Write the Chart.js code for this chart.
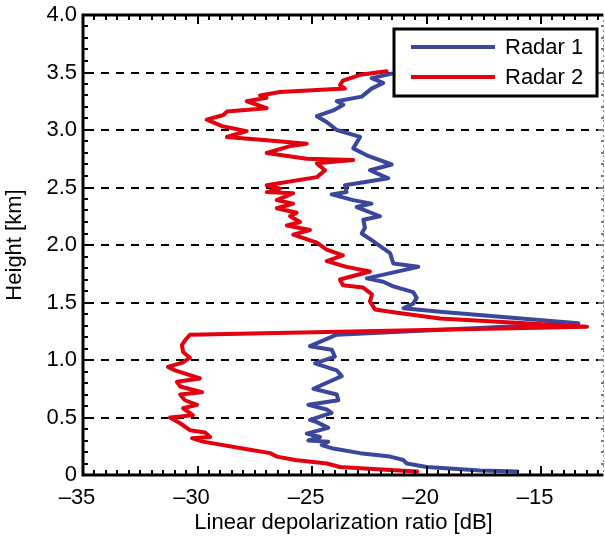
<!DOCTYPE html>
<html><head><meta charset="utf-8">
<script src="https://cdn.jsdelivr.net/npm/chart.js@4/dist/chart.umd.min.js"></script>
<style>html,body{margin:0;padding:0;background:#fff;}canvas{display:block;}</style>
</head><body>
<canvas id="c" width="605" height="540"></canvas>
<script>
// ---------- data ----------
const seriesNames = ['Radar 1', 'Radar 2'];
const seriesColors = ['#3a479b', '#e3000f'];

const radar1Ldr = [-16.05,-17.66,-19.99,-20.86,-21.01,-21.59,-22.90,-24.07,-24.58,-24.29,-25.16,-24.65,-25.23,-24.29,-24.79,-25.09,-24.14,-24.36,-25.16,-23.85,-23.92,-24.94,-23.70,-23.92,-24.87,-24.00,-24.14,-25.09,-23.92,-13.37,-19.41,-21.01,-20.58,-20.43,-20.58,-21.45,-21.89,-22.61,-20.36,-21.45,-21.59,-22.03,-22.38,-22.83,-22.69,-22.76,-22.03,-23.05,-22.40,-23.20,-24.14,-23.49,-23.56,-21.67,-22.47,-21.52,-22.61,-23.20,-22.90,-23.92,-24.36,-24.79,-24.07,-23.63,-23.92,-22.83,-22.40,-21.89,-22.40,-21.52];
const radar1Height = [0.03,0.04,0.07,0.10,0.13,0.16,0.19,0.23,0.26,0.29,0.30,0.33,0.36,0.41,0.46,0.48,0.54,0.57,0.61,0.65,0.70,0.75,0.86,0.91,0.97,1.03,1.09,1.12,1.22,1.32,1.42,1.45,1.49,1.54,1.59,1.64,1.68,1.71,1.81,1.84,1.93,1.99,2.04,2.10,2.15,2.22,2.25,2.33,2.36,2.39,2.44,2.46,2.52,2.58,2.65,2.70,2.78,2.84,2.94,3.00,3.07,3.12,3.17,3.22,3.25,3.29,3.36,3.41,3.45,3.49];

const radar2Ldr = [-20.41,-22.16,-23.78,-24.35,-25.74,-26.53,-26.83,-27.71,-29.76,-30.24,-29.45,-29.67,-30.33,-30.76,-31.20,-30.20,-30.63,-30.02,-30.55,-30.76,-29.80,-30.76,-30.90,-29.89,-30.98,-31.29,-30.63,-30.33,-30.63,-30.68,-30.55,-30.33,-12.99,-19.41,-21.29,-22.25,-22.47,-22.38,-22.77,-23.65,-23.78,-22.47,-23.49,-24.36,-23.65,-24.36,-24.79,-25.82,-25.09,-26.10,-25.52,-25.96,-25.67,-26.54,-25.82,-26.54,-25.82,-26.98,-26.40,-26.98,-24.79,-24.43,-24.79,-23.20,-25.23,-26.98,-25.96,-25.23,-26.98,-28.72,-27.85,-28.87,-29.60,-28.87,-28.72,-26.98,-27.85,-26.98,-27.27,-26.40,-23.56,-23.78,-23.65,-22.90,-21.74];
const radar2Height = [0.03,0.05,0.07,0.10,0.13,0.16,0.19,0.22,0.29,0.32,0.33,0.37,0.39,0.45,0.50,0.52,0.58,0.61,0.65,0.70,0.72,0.77,0.81,0.84,0.91,0.94,0.98,1.02,1.07,1.13,1.17,1.22,1.29,1.36,1.41,1.44,1.51,1.57,1.63,1.65,1.70,1.77,1.81,1.86,1.91,1.96,2.02,2.09,2.13,2.17,2.20,2.25,2.28,2.32,2.36,2.39,2.45,2.46,2.49,2.52,2.59,2.65,2.71,2.74,2.75,2.80,2.86,2.88,2.91,2.94,2.99,3.03,3.09,3.13,3.16,3.19,3.25,3.28,3.30,3.33,3.36,3.39,3.43,3.48,3.51];

const xRange = [-35, -12.25];
const yRange = [0, 4];
const xTickValues = [-35, -30, -25, -20, -15];
const xTickLabels = ['\u201335', '\u201330', '\u201325', '\u201320', '\u201315'];
const yTickValues = [0, 0.5, 1.0, 1.5, 2.0, 2.5, 3.0, 3.5, 4.0];
const yTickLabels = ['0', '0.5', '1.0', '1.5', '2.0', '2.5', '3.0', '3.5', '4.0'];
const xTitle = 'Linear depolarization ratio [dB]';
const yTitle = 'Height [km]';

// ---------- chart ----------
const FONT = "'Liberation Sans', Arial, Helvetica, sans-serif";
Chart.defaults.font.family = FONT;
Chart.defaults.font.size = 22;
Chart.defaults.color = '#000';

function pts(xs, ys) { return xs.map((v, i) => ({ x: v, y: ys[i] })); }

const framePlugin = {
  id: 'frame',
  beforeDatasetsDraw(chart) {
    const { ctx, chartArea: a, scales: { y } } = chart;
    ctx.save();
    ctx.strokeStyle = '#000';
    ctx.lineWidth = 2;
    ctx.setLineDash([8, 7]);
    ctx.lineDashOffset = -3;
    yTickValues.forEach(v => {
      if (v <= yRange[0] || v >= yRange[1]) return;
      const py = Math.round(y.getPixelForValue(v));
      ctx.beginPath(); ctx.moveTo(a.left, py); ctx.lineTo(a.right, py); ctx.stroke();
    });
    ctx.restore();
  },
  afterDatasetsDraw(chart) {
    const { ctx, chartArea: a, scales: { x, y } } = chart;
    ctx.save();
    ctx.setLineDash([]);
    ctx.strokeStyle = '#000';
    ctx.lineWidth = 2;
    for (let k = 0; ; k++) {
      const v = xRange[0] + k * 0.5;
      if (v > xRange[1] + 1e-9) break;
      const major = Math.abs(v / 5 - Math.round(v / 5)) < 1e-6;
      const len = major ? 9 : 5;
      const px = Math.round(x.getPixelForValue(v));
      ctx.beginPath();
      ctx.moveTo(px, a.bottom); ctx.lineTo(px, a.bottom - len);
      ctx.moveTo(px, a.top); ctx.lineTo(px, a.top + len);
      ctx.stroke();
    }
    for (let k = 0; ; k++) {
      const v = yRange[0] + k * 0.1;
      if (v > yRange[1] + 1e-9) break;
      const major = Math.abs(v / 0.5 - Math.round(v / 0.5)) < 1e-6;
      const len = major ? 8 : 5;
      const py = Math.round(y.getPixelForValue(v));
      ctx.strokeStyle = '#000';
      ctx.beginPath(); ctx.moveTo(a.left, py); ctx.lineTo(a.left + len, py); ctx.stroke();
      ctx.strokeStyle = '#777';
      ctx.beginPath(); ctx.moveTo(a.right, py); ctx.lineTo(a.right - (major ? 6 : 3), py); ctx.stroke();
    }
    ctx.strokeStyle = '#000';
    ctx.lineWidth = 3;
    ctx.beginPath();
    ctx.moveTo(a.left, a.top - 1.5); ctx.lineTo(a.left, a.bottom + 1.5);
    ctx.moveTo(a.left - 1.5, a.bottom); ctx.lineTo(a.right - 1, a.bottom);
    ctx.moveTo(a.left - 1.5, a.top); ctx.lineTo(a.right - 1, a.top);
    ctx.stroke();
    ctx.strokeStyle = '#888';
    ctx.lineWidth = 1;
    ctx.setLineDash([2, 3]);
    ctx.beginPath(); ctx.moveTo(a.right - 0.5, a.top); ctx.lineTo(a.right - 0.5, a.bottom); ctx.stroke();
    ctx.restore();
  },
  afterDraw(chart) {
    const { ctx, chartArea: a } = chart;
    const w = 203, h = 67;
    const left = a.right - 7 - w, top = a.top + 14;
    ctx.save();
    ctx.fillStyle = '#fff';
    ctx.fillRect(left, top, w, h);
    ctx.strokeStyle = '#000';
    ctx.lineWidth = 3;
    ctx.setLineDash([]);
    ctx.strokeRect(left, top, w, h);
    ctx.font = '22px ' + FONT;
    ctx.textBaseline = 'middle';
    chart.data.datasets.forEach((ds, i) => {
      const yy = top + 18 + i * 30;
      ctx.strokeStyle = ds.borderColor;
      ctx.lineWidth = 4;
      ctx.beginPath(); ctx.moveTo(left + 17, yy); ctx.lineTo(left + 101, yy); ctx.stroke();
      ctx.fillStyle = '#000';
      ctx.fillText(ds.label, left + 111, yy + 1);
    });
    ctx.restore();
  }
};

new Chart(document.getElementById('c'), {
  type: 'scatter',
  data: {
    datasets: [
      { label: seriesNames[0], data: pts(radar1Ldr, radar1Height), borderColor: seriesColors[0], backgroundColor: seriesColors[0], order: 1 },
      { label: seriesNames[1], data: pts(radar2Ldr, radar2Height), borderColor: seriesColors[1], backgroundColor: seriesColors[1], order: 0 }
    ]
  },
  options: {
    responsive: false,
    animation: false,
    devicePixelRatio: 1,
    layout: { padding: { left: 0, right: 1, top: 15, bottom: 0 } },
    elements: {
      line: { borderWidth: 4, tension: 0, borderJoinStyle: 'round', borderCapStyle: 'round' },
      point: { radius: 0, hoverRadius: 0 }
    },
    datasets: { scatter: { showLine: true } },
    plugins: { legend: { display: false }, tooltip: { enabled: false } },
    scales: {
      x: {
        type: 'linear', position: 'bottom', min: xRange[0], max: xRange[1],
        afterBuildTicks: s => { s.ticks = xTickValues.map(v => ({ value: v })); },
        afterFit: s => { s.height = 65; s.paddingLeft = 0; s.paddingRight = 0; },
        grid: { display: false, drawTicks: false },
        border: { display: false },
        ticks: { autoSkip: false, maxRotation: 0, padding: 10, labelOffset: -6, callback: v => xTickLabels[xTickValues.indexOf(v)] },
        title: { display: true, text: xTitle, padding: { top: 0, bottom: 4 } }
      },
      y: {
        type: 'linear', position: 'left', min: yRange[0], max: yRange[1],
        afterBuildTicks: s => { s.ticks = yTickValues.map(v => ({ value: v })); },
        afterFit: s => { s.width = 83; s.paddingTop = 0; s.paddingBottom = 0; },
        grid: { display: false, drawTicks: false },
        border: { display: false },
        ticks: { autoSkip: false, padding: 6, callback: v => yTickLabels[yTickValues.indexOf(v)] },
        title: { display: true, text: yTitle, padding: { top: 2, bottom: 0 } }
      }
    }
  },
  plugins: [framePlugin]
});
</script>
</body></html>
